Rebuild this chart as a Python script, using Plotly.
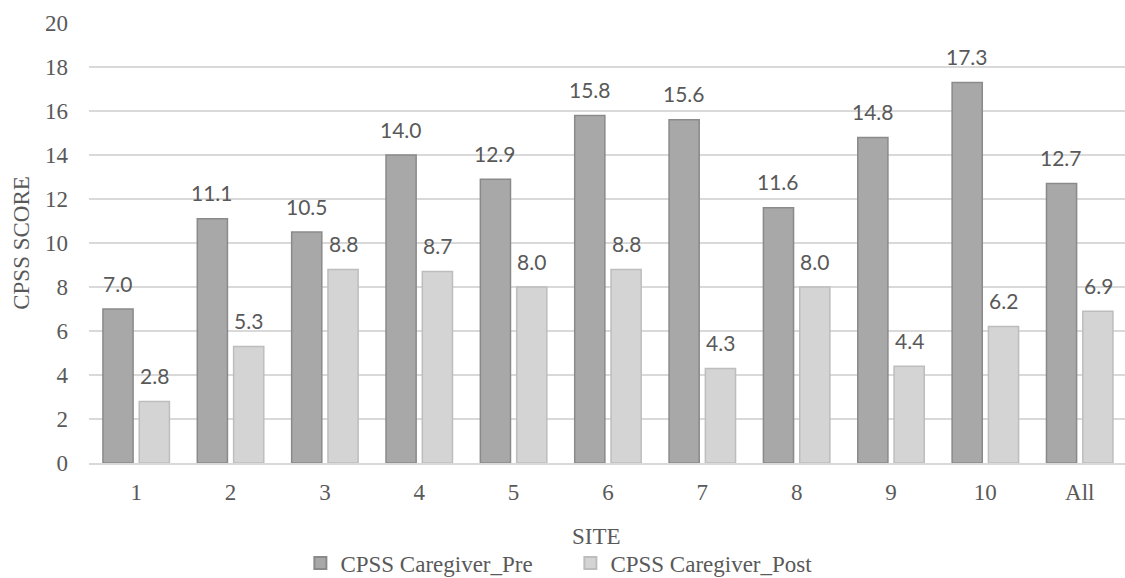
import plotly.graph_objects as go

sites = ["1", "2", "3", "4", "5", "6", "7", "8", "9", "10", "All"]
pre = [7.0, 11.1, 10.5, 14.0, 12.9, 15.8, 15.6, 11.6, 14.8, 17.3, 12.7]
post = [2.8, 5.3, 8.8, 8.7, 8.0, 8.8, 4.3, 8.0, 4.4, 6.2, 6.9]
y_ticks = list(range(0, 21, 2))

TXT = "#595959"
SERIF = "Liberation Serif"
SANS = "Lato"

fig = go.Figure()
fig.add_trace(go.Bar(
    x=sites, y=pre, name="CPSS Caregiver_Pre",
    marker=dict(color="#a8a8a8", line=dict(color="#8a8a8a", width=1.5)),
))
fig.add_trace(go.Bar(
    x=sites, y=post, name="CPSS Caregiver_Post",
    marker=dict(color="#d4d4d4", line=dict(color="#bdbdbd", width=1.5)),
))

ann = []
for i, v in enumerate(pre):
    ann.append(dict(x=i, y=v, xref="x", yref="y", text=f"{v:.1f}", showarrow=False, xshift=-18.3,
                    yshift=26, yanchor="middle", font=dict(family=SANS, size=21, color=TXT)))
for i, v in enumerate(post):
    ann.append(dict(x=i, y=v, xref="x", yref="y", text=f"{v:.1f}", showarrow=False, xshift=18.3,
                    yshift=26, yanchor="middle", font=dict(family=SANS, size=21, color=TXT)))
# x-axis title placed as paper annotation so it does not push the plot area
ann.append(dict(x=0.49, y=-0.168, xref="paper", yref="paper", text="SITE", showarrow=False,
                xanchor="center", yanchor="middle", font=dict(family=SERIF, size=23, color=TXT)))

fig.update_layout(
    width=1125, height=578,
    margin=dict(l=89, r=0, t=23, b=115),
    paper_bgcolor="white", plot_bgcolor="white",
    barmode="group", bargap=0.23, bargroupgap=0.17,
    annotations=ann,
    font=dict(family=SERIF, size=23, color=TXT),
    showlegend=True,
    legend=dict(orientation="h", xref="container", yref="container",
                x=0.507, xanchor="center", y=1 - 563 / 578, yanchor="middle",
                font=dict(family=SERIF, size=23, color=TXT), itemwidth=30,
                entrywidth=225, tracegroupgap=0, itemsizing="constant"),
    xaxis=dict(
        type="category", automargin=False,
        range=[-0.5, 10.48], showgrid=False, showline=True, linecolor="#d9d9d9", linewidth=1.5,
        ticks="", tickfont=dict(family=SERIF, size=23, color=TXT), ticklabelstandoff=8,
    ),
    yaxis=dict(
        automargin=False,
        range=[0, 20], tickvals=y_ticks, showgrid=True, gridcolor="#d9d9d9", gridwidth=1.5,
        zeroline=False, ticks="", tickfont=dict(family=SERIF, size=23, color=TXT),
        ticklabelstandoff=20,
        title=dict(text="CPSS SCORE", font=dict(family=SERIF, size=23, color=TXT), standoff=8),
    ),
)

fig.write_html("out.html")
